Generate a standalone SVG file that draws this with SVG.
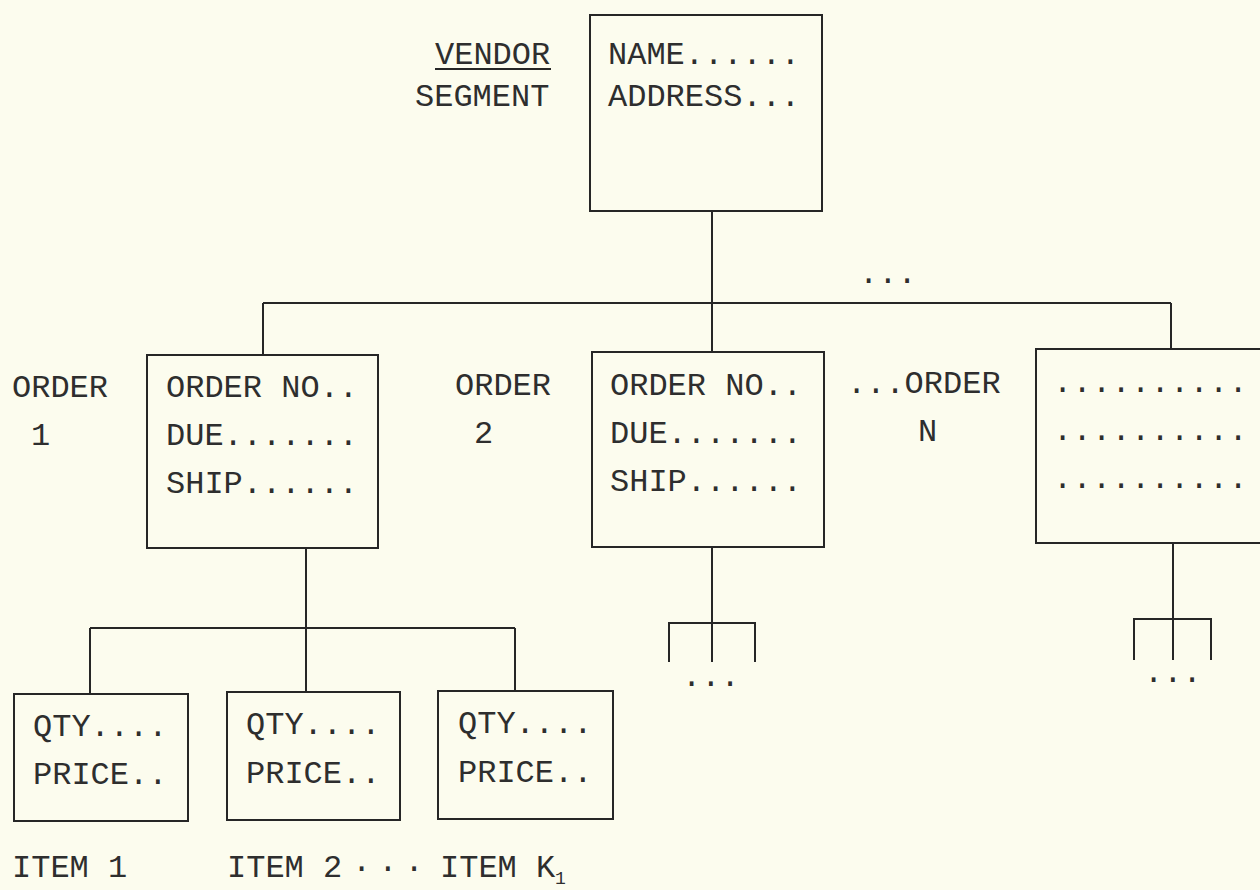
<svg xmlns="http://www.w3.org/2000/svg" width="1260" height="890" viewBox="0 0 1260 890">
<style>
.bg{fill:#fcfcee}
.box{fill:none;stroke:#262626;stroke-width:2}
.ln{fill:none;stroke:#262626;stroke-width:2}
.t{font-family:"Liberation Mono","Courier New",monospace;font-size:32px;fill:#2e2e2e}
.s{font-family:"Liberation Mono","Courier New",monospace;font-size:18px;fill:#2e2e2e}
</style>
<rect class="bg" x="0" y="0" width="1260" height="890"/>

<g id="connectors">
  <path class="ln" d="M712 211 V303 M263 303 H1171 M263 303 V355 M712 303 V352 M1171 303 V349"/>
  <path class="ln" d="M306 548 V628 M90 628 H515 M90 628 V694 M306 628 V692 M515 628 V691"/>
  <path class="ln" d="M712 547 V662 M669 662 V623 H755 V662"/>
  <path class="ln" d="M1173 543 V660 M1134 660 V619 H1211 V660"/>
  <text class="t" x="859" y="283">...</text>
  <text class="t" x="682" y="686">...</text>
  <text class="t" x="1144" y="682">...</text>
</g>

<g id="vendor">
  <rect class="box" x="590" y="15" width="232" height="196"/>
  <text class="t" x="435" y="64">VENDOR</text>
  <line class="ln" x1="435" y1="69" x2="551" y2="69"/>
  <text class="t" x="415" y="106">SEGMENT</text>
  <text class="t" x="608" y="64">NAME......</text>
  <text class="t" x="608" y="106">ADDRESS...</text>
</g>

<g id="order1">
  <rect class="box" x="147" y="355" width="231" height="193"/>
  <text class="t" x="12" y="397">ORDER</text>
  <text class="t" x="31" y="445">1</text>
  <text class="t" x="166" y="397">ORDER NO..</text>
  <text class="t" x="166" y="445">DUE.......</text>
  <text class="t" x="166" y="493">SHIP......</text>
</g>

<g id="order2">
  <rect class="box" x="592" y="352" width="232" height="195"/>
  <text class="t" x="455" y="395">ORDER</text>
  <text class="t" x="474" y="443">2</text>
  <text class="t" x="610" y="395">ORDER NO..</text>
  <text class="t" x="610" y="443">DUE.......</text>
  <text class="t" x="610" y="491">SHIP......</text>
</g>

<g id="orderN">
  <rect class="box" x="1036" y="349" width="240" height="194"/>
  <text class="t" x="847" y="393">...ORDER</text>
  <text class="t" x="918" y="441">N</text>
  <text class="t" x="1053" y="392" letter-spacing="0.3">..........</text>
  <text class="t" x="1053" y="440" letter-spacing="0.3">..........</text>
  <text class="t" x="1053" y="488" letter-spacing="0.3">..........</text>
</g>

<g id="item1">
  <rect class="box" x="14" y="694" width="174" height="127"/>
  <text class="t" x="33" y="736">QTY....</text>
  <text class="t" x="33" y="784">PRICE..</text>
  <text class="t" x="12" y="877">ITEM 1</text>
</g>

<g id="item2">
  <rect class="box" x="227" y="692" width="173" height="128"/>
  <text class="t" x="246" y="734">QTY....</text>
  <text class="t" x="246" y="783">PRICE..</text>
  <text class="t" x="227" y="877">ITEM 2</text>
</g>

<text class="t" x="352" y="877" letter-spacing="7">···</text>

<g id="item3">
  <rect class="box" x="438" y="691" width="175" height="128"/>
  <text class="t" x="458" y="733">QTY....</text>
  <text class="t" x="458" y="782">PRICE..</text>
  <text class="t" x="440" y="877">ITEM K</text>
  <text class="s" x="555" y="884">1</text>
</g>
</svg>
